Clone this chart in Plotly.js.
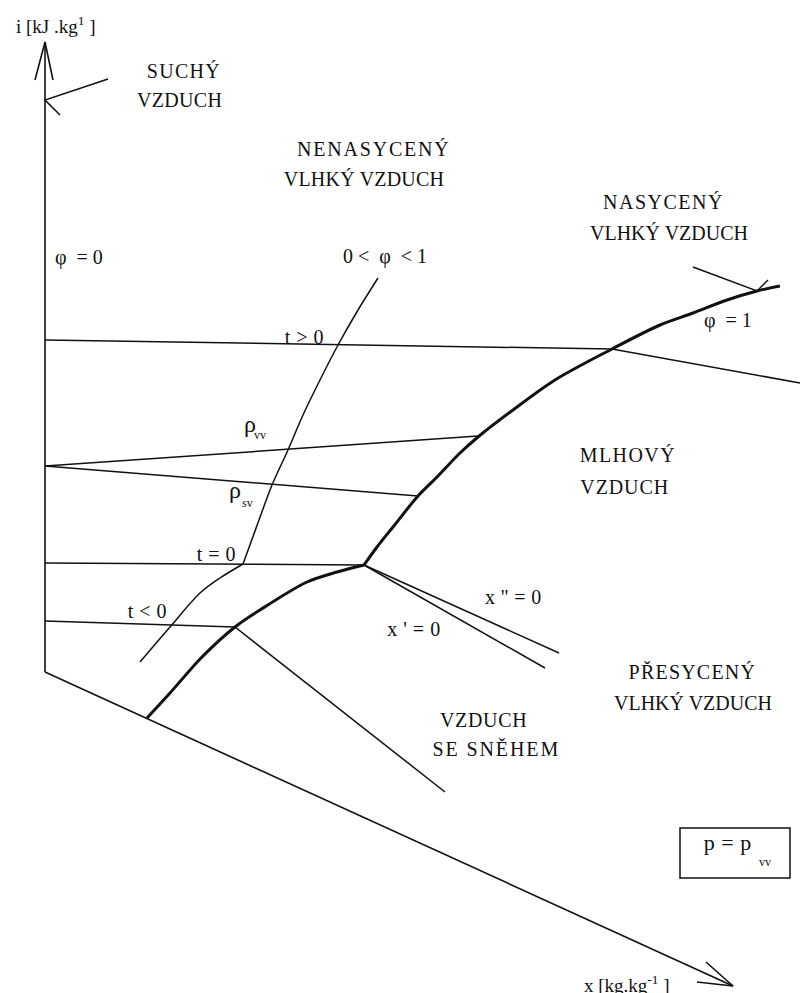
<!DOCTYPE html>
<html>
<head>
<meta charset="utf-8">
<script src="https://cdn.plot.ly/plotly-3.0.1.min.js"></script>
<style>
  html, body { margin: 0; padding: 0; background: #fff; }
  #chart { width: 802px; height: 993px; }
</style>
</head>
<body>
<div id="chart"></div>
<script>
// Mollier i–x diagram of moist air: regions and boundary curves.
// Diagram units: x to the right, y measured downward from the top edge.

// Axes with arrow heads
const iAxisX = [45, 45],            iAxisY = [672, 42];
const iArrowX = [35, 45, 53],       iArrowY = [80, 42, 80];
const xAxisX = [45, 733],           xAxisY = [672, 986];
const xArrowX = [706, 733, 697],    xArrowY = [962, 986, 982];
const dryPointerX = [108, 45, 60],  dryPointerY = [79, 100, 115];

// Isotherms t > 0, t = 0, t < 0
const isoPosX = [45, 612, 800],     isoPosY = [340, 349, 383];
const isoZeroX = [45, 243, 364],    isoZeroY = [563, 564, 565];
const isoNegX = [45, 235, 445],     isoNegY = [621, 627, 792];

// Lines of constant density (saturated and dry air)
const rhoVVX = [45, 478],           rhoVVY = [466, 436];
const rhoSVX = [45, 418],           rhoSVY = [466, 496];

// Relative humidity 0 < phi < 1
const phiMidX = [378, 358, 338, 320, 303, 288, 272, 259, 243];
const phiMidY = [278, 310, 345, 380, 415, 450, 485, 520, 564];
const phiLowX = [243, 220, 200, 170, 140];
const phiLowY = [564, 578, 593, 627, 662];

// Saturation curve phi = 1 (over ice, over water)
const satIceX = [147, 170, 202, 235, 260, 307, 337, 364];
const satIceY = [718, 693, 657, 627, 610, 582, 572, 565];
const satWaterX = [364, 377, 393, 418, 437, 460, 478, 513, 555, 612, 660, 693, 727, 757, 780];
const satWaterY = [565, 547, 527, 496, 477, 453, 437, 410, 380, 349, 325, 313, 300, 291, 286];
const phi1PointerX = [693, 757, 768], phi1PointerY = [267, 291, 280];

// Boundaries x'' = 0 and x' = 0 of the triple-point wedge
const xppX = [364, 559], xppY = [565, 653];
const xpX = [364, 545],  xpY = [565, 668];

// Pressure note frame
const boxX = [680, 790], boxY = [828, 878];

// Text labels
const labelText = [
  'i [kJ .kg<sup>1</sup> ]',
  'SUCHÝ', 'VZDUCH',
  'NENASYCENÝ', 'VLHKÝ VZDUCH',
  'NASYCENÝ', 'VLHKÝ VZDUCH',
  'φ  = 0', '0 <  φ  < 1', 't > 0', 'φ  = 1',
  'MLHOVÝ', 'VZDUCH',
  't = 0', 't < 0',
  'x " = 0', "x ' = 0",
  'PŘESYCENÝ', 'VLHKÝ VZDUCH',
  'VZDUCH', 'SE SNĚHEM',
  'p = p', 'vv',
  'x [kg.kg<sup>-1</sup> ]',
  'ρ', 'vv', 'ρ', 'sv'
];
const labelX = [55, 183.5, 179, 374, 364, 663, 669, 79, 385, 304, 728, 627.5, 624,
                216, 147, 513, 414, 692, 693, 483.5, 496, 727, 765, 626, 250, 260, 235, 247];
const labelY = [25, 71, 100, 149, 179, 202, 233, 257, 256, 337, 320, 455, 487,
                554, 611, 597, 629, 672, 703, 720, 749, 842, 862, 984, 424, 435, 490, 503];
const labelSize = [19, 20, 20, 20, 20, 20, 20, 20, 20, 20, 20, 20, 20,
                   20, 20, 20, 20, 20, 20, 20, 20, 22, 12, 19, 24, 12, 24, 12];
const labelSpacing = [0, 1.3, 0.3, 1.8, 0.2, 1.5, 0, 0, 0, 0.5, 0, 1.4, 0.9,
                      0.5, 0.5, 0.3, 0.5, 1.2, 0, 0.7, 1.9, 0.5, 0, 0, 0, 0, 0, 0];

const SERIF = 'Liberation Serif';
const INK = '#111';

function line(x, y, width, shape) {
  return {
    type: 'scatter', mode: 'lines', x: x, y: y,
    line: { color: INK, width: width, shape: shape || 'linear', smoothing: 0.9 },
    hoverinfo: 'skip', showlegend: false
  };
}

const traces = [
  line(iAxisX, iAxisY, 1.6), line(iArrowX, iArrowY, 1.6),
  line(xAxisX, xAxisY, 1.6), line(xArrowX, xArrowY, 1.6),
  line(dryPointerX, dryPointerY, 1.5),
  line(isoPosX, isoPosY, 1.5), line(isoZeroX, isoZeroY, 1.5), line(isoNegX, isoNegY, 1.5),
  line(rhoVVX, rhoVVY, 1.5), line(rhoSVX, rhoSVY, 1.5),
  line(phiMidX, phiMidY, 1.5, 'spline'), line(phiLowX, phiLowY, 1.5, 'spline'),
  line(satIceX, satIceY, 3, 'spline'), line(satWaterX, satWaterY, 3, 'spline'),
  line(phi1PointerX, phi1PointerY, 1.5),
  line(xppX, xppY, 1.5), line(xpX, xpY, 1.5)
];

const annotations = labelText.map((t, i) => ({
  text: t, x: labelX[i], y: labelY[i], xref: 'x', yref: 'y',
  xanchor: 'center', yanchor: 'middle', showarrow: false,
  font: { family: SERIF, size: labelSize[i], color: INK }
}));

const layout = {
  width: 802, height: 993,
  margin: { l: 0, r: 0, t: 0, b: 0 },
  paper_bgcolor: '#fff', plot_bgcolor: '#fff',
  font: { family: SERIF },
  xaxis: { range: [0, 802], visible: false, fixedrange: true },
  yaxis: { range: [993, 0], visible: false, fixedrange: true },
  showlegend: false,
  shapes: [{
    type: 'rect', xref: 'x', yref: 'y',
    x0: boxX[0], x1: boxX[1], y0: boxY[0], y1: boxY[1],
    line: { color: INK, width: 1.5 }
  }],
  annotations: annotations
};

Plotly.newPlot('chart', traces, layout, { staticPlot: true, displayModeBar: false }).then(gd => {
  // widen the tracking of the region names
  labelSpacing.forEach((s, i) => {
    const node = gd.querySelector('.annotation[data-index="' + i + '"] .annotation-text');
    if (node && s) node.style.letterSpacing = s + 'px';
  });
});
</script>
</body>
</html>
